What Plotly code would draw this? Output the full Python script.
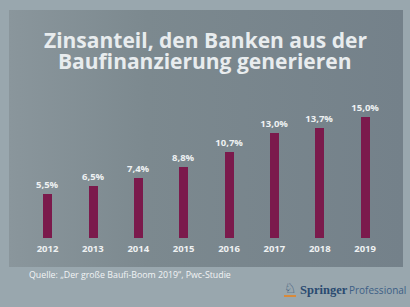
import plotly.graph_objects as go

years = ["2012", "2013", "2014", "2015", "2016", "2017", "2018", "2019"]
shares = [5.5, 6.5, 7.4, 8.8, 10.7, 13.0, 13.7, 15.0]
labels = [f"{v:.1f}".replace(".", ",") + "%" for v in shares]

W, H = 410, 307

def px_x(x):
    return x / W

def px_y(y):
    return 1 - y / H

fig = go.Figure()
# background panel (pixel-coordinate axes)
fig.add_trace(go.Scatter(
    x=[9, 403, 403, 9, 9], y=[10, 10, 267, 267, 10], mode="lines",
    line=dict(width=0), fill="toself",
    fillgradient=dict(type="horizontal",
                      colorscale=[[0, "#8a969c"], [0.35, "#7c898f"], [1, "#74818a"]]),
    hoverinfo="skip", showlegend=False, xaxis="x", yaxis="y",
))
fig.add_trace(go.Bar(
    x=years, y=shares, text=labels, textposition="outside",
    texttemplate="%{text}", constraintext="none",
    textfont=dict(family="Open Sans", size=9.5, color="#eef1f2", weight="bold"),
    marker=dict(color="#7b1a4c", line=dict(width=0)),
    width=0.2, cliponaxis=False, hoverinfo="skip", xaxis="x2", yaxis="y2",
))

fig.update_layout(
    width=W, height=H, margin=dict(l=0, r=0, t=0, b=0),
    paper_bgcolor="#99a7ae", plot_bgcolor="rgba(0,0,0,0)",
    showlegend=False, bargap=0,
    xaxis=dict(domain=[0, 1], range=[0, W], visible=False, fixedrange=True),
    yaxis=dict(domain=[0, 1], range=[H, 0], visible=False, fixedrange=True),
    xaxis2=dict(domain=[px_x(24.8), px_x(387.8)], range=[-0.5, 7.5], anchor="y2",
                showgrid=False, zeroline=False, showline=False,
                ticks="", tickfont=dict(family="Open Sans", size=9.5, color="#eef1f2", weight="bold"),
                ticklabelstandoff=3),
    yaxis2=dict(domain=[px_y(238), px_y(238 - 16 * 8.07)], range=[0, 16], anchor="x2",
                visible=False),
    shapes=[dict(type="line", xref="paper", yref="paper",
                 x0=px_x(284), x1=px_x(296), y0=px_y(296), y1=px_y(296),
                 line=dict(color="#d98a3a", width=2))],
    annotations=[
        dict(text="Zinsanteil, den Banken aus der", x=0.5, y=px_y(39.5), xref="paper", yref="paper",
             showarrow=False, xanchor="center", yanchor="middle",
             font=dict(family="Open Sans", size=21, color="#e8ecee", weight="bold")),
        dict(text="Baufinanzierung generieren", x=0.5, y=px_y(61), xref="paper", yref="paper",
             showarrow=False, xanchor="center", yanchor="middle",
             font=dict(family="Open Sans", size=21, color="#e8ecee", weight="bold")),
        dict(text="Quelle: „Der große Baufi-Boom 2019“, Pwc-Studie", x=px_x(27), y=px_y(274.5),
             xref="paper", yref="paper", showarrow=False, xanchor="left", yanchor="middle",
             font=dict(family="Open Sans", size=8.8, color="#f2f4f5")),
        dict(text="♘", x=px_x(290), y=px_y(288), xref="paper", yref="paper",
             showarrow=False, xanchor="center", yanchor="middle",
             font=dict(family="DejaVu Sans", size=14, color="#2d4a6e")),
        dict(text="<b>Springer</b>", x=px_x(298), y=px_y(290), xref="paper", yref="paper",
             showarrow=False, xanchor="left", yanchor="middle",
             font=dict(family="Liberation Serif", size=12.5, color="#2a4a70")),
        dict(text="Professional", x=px_x(347), y=px_y(290), xref="paper", yref="paper",
             showarrow=False, xanchor="left", yanchor="middle",
             font=dict(family="Open Sans", size=10, color="#3d5f86")),
    ],
)

fig.write_html("out.html", config={"displayModeBar": False},
               post_script="document.body.style.margin='0';document.body.style.overflow='hidden';")
